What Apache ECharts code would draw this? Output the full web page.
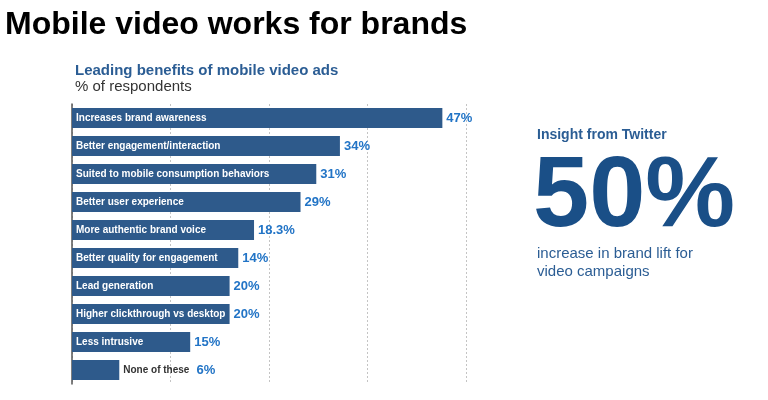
<!DOCTYPE html>
<html>
<head>
<meta charset="utf-8">
<script src="https://cdn.jsdelivr.net/npm/echarts@6/dist/echarts.min.js"></script>
<style>
html,body{margin:0;padding:0;background:#fff;}
#main{width:768px;height:400px;}
</style>
</head>
<body>
<div id="main"></div>
<script>
// Data
const categories = [
  "Increases brand awareness",
  "Better engagement/interaction",
  "Suited to mobile consumption behaviors",
  "Better user experience",
  "More authentic brand voice",
  "Better quality for engagement",
  "Lead generation",
  "Higher clickthrough vs desktop",
  "Less intrusive",
  "None of these"
];
// bar lengths as drawn in the picture (% scale)
const barValues = [47, 34, 31, 29, 23.1, 21.1, 20, 20, 15, 6];
// printed value labels
const valueLabels = ["47%", "34%", "31%", "29%", "18.3%", "14%", "20%", "20%", "15%", "6%"];
const outsideNameIndex = 9; // "None of these" label sits outside its bar
const axisTicks = [0, 12.5, 25, 37.5, 50];

const FONT = "Liberation Sans, Arial, Helvetica, sans-serif";
const BAR = "#2e5a8b";
const VAL = "#2274c6";

const chart = echarts.init(document.getElementById('main'), null, {renderer: 'canvas'});
chart.setOption({
  animation: false,
  backgroundColor: '#fff',
  textStyle: {fontFamily: FONT},
  grid: {left: 72, right: 302, top: 104, height: 280, containLabel: false},
  xAxis: {
    type: 'value', min: axisTicks[0], max: axisTicks[axisTicks.length - 1], interval: 12.5,
    axisLabel: {show: false}, axisTick: {show: false}, axisLine: {show: false},
    splitLine: {show: true, lineStyle: {color: '#c4c4c4', type: [2, 2], width: 1}}
  },
  yAxis: {
    type: 'category', inverse: true, data: categories,
    axisLabel: {show: false}, axisTick: {show: false},
    axisLine: {show: true, lineStyle: {color: '#555', width: 1.5}}
  },
  series: [
    {
      type: 'bar', data: barValues, barWidth: 20, silent: true,
      itemStyle: {color: BAR},
      label: {
        show: true, position: 'insideLeft', distance: 4,
        color: '#fff', fontWeight: 'bold', fontSize: 10, fontFamily: FONT,
        formatter: p => p.dataIndex === outsideNameIndex ? '' : categories[p.dataIndex]
      },
      z: 2
    },
    {
      type: 'bar', data: barValues, barWidth: 20, barGap: '-100%', silent: true,
      itemStyle: {color: 'rgba(0,0,0,0)'},
      label: {
        show: true, position: 'right', distance: 4,
        fontFamily: FONT,
        formatter: p => p.dataIndex === outsideNameIndex
          ? '{n|' + categories[p.dataIndex] + '}{v|' + valueLabels[p.dataIndex] + '}'
          : '{v|' + valueLabels[p.dataIndex] + '}',
        rich: {
          n: {color: '#333', fontWeight: 'bold', fontSize: 10, fontFamily: FONT, padding: [0, 7, 0, 0]},
          v: {color: VAL, fontWeight: 'bold', fontSize: 13, fontFamily: FONT}
        }
      },
      z: 3
    }
  ],
  graphic: [
    {type: 'text', left: 5, top: 9, style: {text: 'Mobile video works for brands', font: 'bold 32px ' + FONT, fill: '#000'}},
    {type: 'text', left: 75, top: 63, style: {text: 'Leading benefits of mobile video ads', font: 'bold 15px ' + FONT, fill: '#2b5d94'}},
    {type: 'text', left: 75, top: 79, style: {text: '% of respondents', font: '15px ' + FONT, fill: '#333'}},
    {type: 'text', left: 537, top: 128, style: {text: 'Insight from Twitter', font: 'bold 14px ' + FONT, fill: '#2b5d94'}},
    {type: 'text', left: 533, top: 148, style: {text: '50%', font: 'bold 101px ' + FONT, fill: '#1a4f87'}},
    {type: 'text', left: 537, top: 245, style: {text: 'increase in brand lift for\nvideo campaigns', font: '15px ' + FONT, lineHeight: 18, fill: '#2b5d94'}}
  ]
});
</script>
</body>
</html>
